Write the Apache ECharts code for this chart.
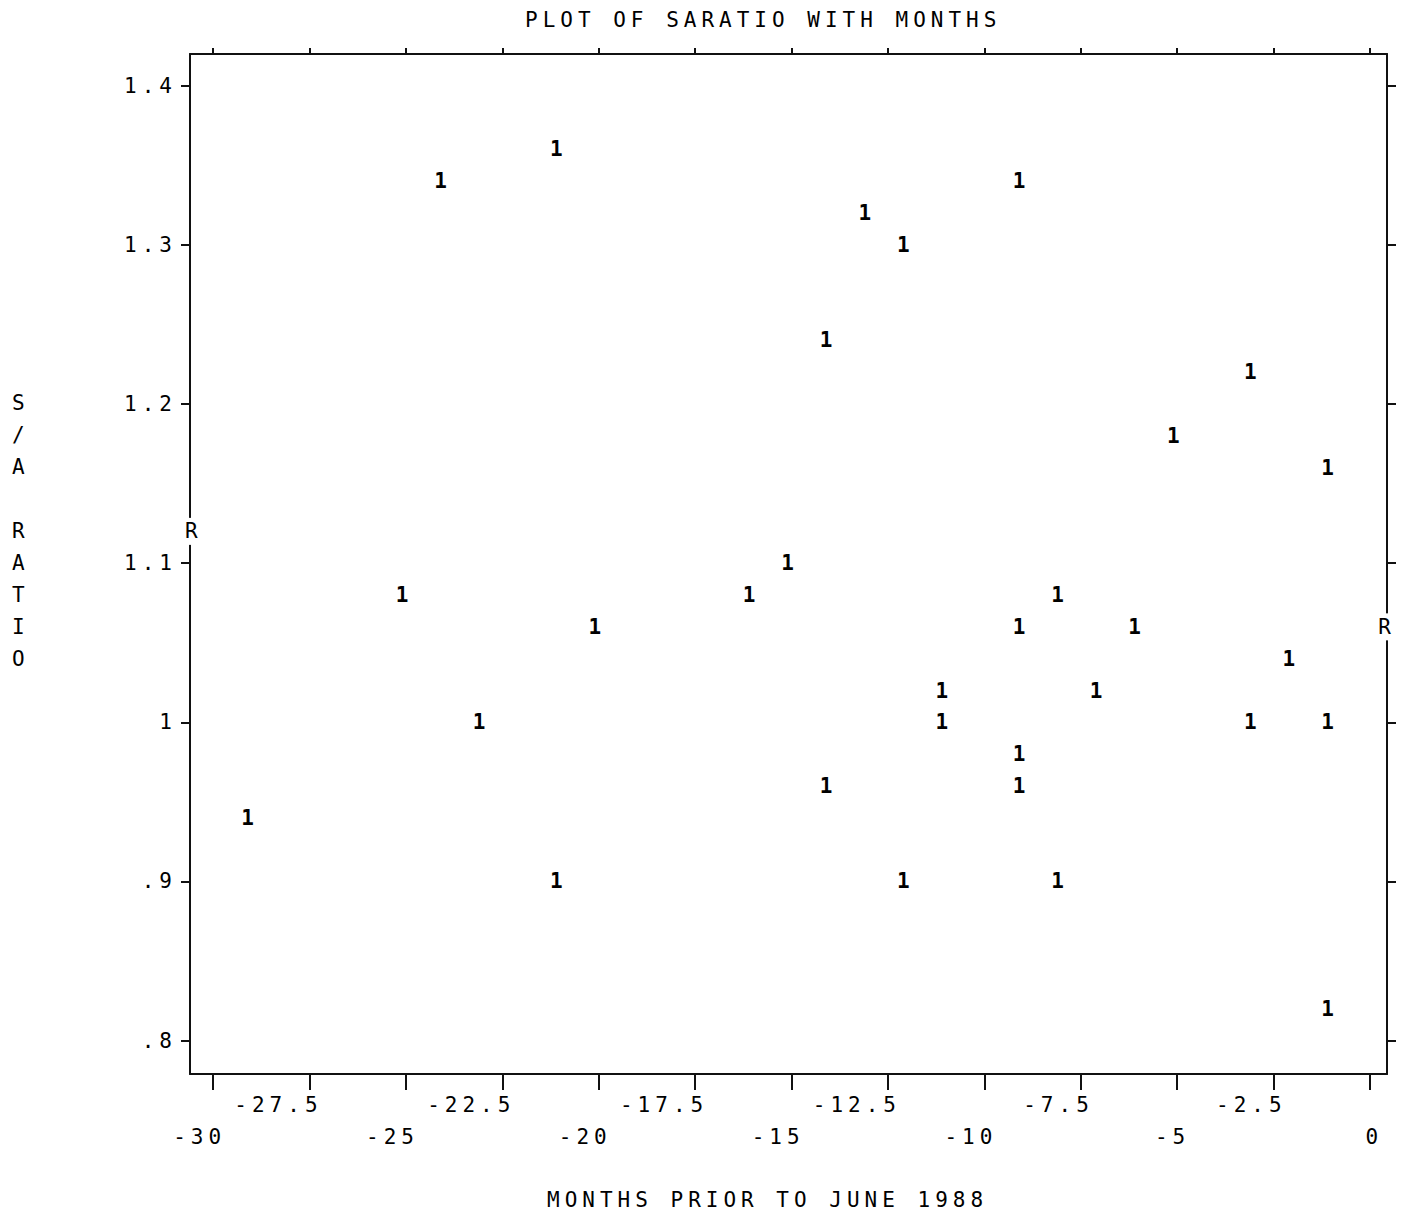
<!DOCTYPE html>
<html><head><meta charset="utf-8">
<script src="https://cdn.jsdelivr.net/npm/echarts@6/dist/echarts.min.js"></script>
<style>
html,body{margin:0;padding:0;background:#fff}
#chart{width:1408px;height:1217px;letter-spacing:5px}
</style></head><body><div id="chart"></div>
<script>
const months = [-29,-24,-21,-25,-23,-20,-21,-16,-15,-14,-14,-13,-12,-12,-11,-11,-9,-9,-9,-9,-8,-8,-7,-6,-5,-3,-3,-2,-1,-1,-1];
const saRatio = [0.94,1.34,1.36,1.08,1.00,1.06,0.90,1.08,1.10,1.24,0.96,1.32,1.30,0.90,1.02,1.00,1.34,1.06,0.98,0.96,1.08,0.90,1.02,1.06,1.18,1.22,1.00,1.04,1.16,1.00,0.82];
const refMonths = [-30.5, 0.44];
const refRatio = [1.12, 1.06];
const xTicks = [-30,-27.5,-25,-22.5,-20,-17.5,-15,-12.5,-10,-7.5,-5,-2.5,0];
const yTicks = [0.8,0.9,1.0,1.1,1.2,1.3,1.4];
const titleText = 'PLOT OF SARATIO WITH MONTHS';
const xName = 'MONTHS PRIOR TO JUNE 1988';
const yNameLines = ['S','/','A','','R','A','T','I','O'];

const FONT = "'DejaVu Sans Mono', monospace";
const INK = '#000000';
const pts = months.map((m, i) => [m, saRatio[i]]);
const refPts = refMonths.map((m, i) => [m, refRatio[i]]);

const lineStyle = {color: '#111', width: 2};
const baseText = {fontFamily: FONT, fontSize: 21, color: INK, fontWeight: 'normal'};
const markText = {fontFamily: FONT, fontSize: 21, color: INK, fontWeight: 600};

const chart = echarts.init(document.getElementById('chart'), null, {renderer: 'svg'});
chart.setOption({
  backgroundColor: '#fff',
  animation: false,
  title: [
    {text: titleText, left: 525, top: 8, padding: 0, textStyle: Object.assign({lineHeight: 24}, baseText)},
    {text: xName, left: 547, top: 1188, padding: 0, textStyle: Object.assign({lineHeight: 24}, baseText)},
    {text: yNameLines.join('\n'), left: 12, top: 387, padding: 0, textStyle: Object.assign({lineHeight: 32}, baseText)}
  ],
  grid: {left: 190, right: 21, top: 54, bottom: 143, containLabel: false},
  xAxis: [
    {
      type: 'value', position: 'bottom', min: -30.6, max: 0.44,
      axisLine: {onZero: false, lineStyle: lineStyle},
      axisTick: {customValues: xTicks, length: 16, lineStyle: lineStyle},
      axisLabel: Object.assign({
        customValues: xTicks, margin: 15, lineHeight: 32, align: 'right', padding: [0, -13, 0, 0],
        formatter: function (v) {
          const upper = Math.abs(v % 5) > 0.1;
          return upper ? String(v) : '\n' + String(v);
        }
      }, baseText),
      splitLine: {show: false}
    },
    {
      type: 'value', position: 'top', min: -30.6, max: 0.44,
      axisLine: {onZero: false, lineStyle: lineStyle},
      axisTick: {customValues: xTicks, length: 6, lineStyle: lineStyle},
      axisLabel: {show: false},
      splitLine: {show: false}
    }
  ],
  yAxis: [
    {
      type: 'value', position: 'left', min: 0.779, max: 1.42,
      axisLine: {onZero: false, lineStyle: lineStyle},
      axisTick: {customValues: yTicks, length: 9, lineStyle: lineStyle},
      axisLabel: Object.assign({
        customValues: yTicks, margin: 13, align: 'right',
        formatter: function (v) {
          const s = String(Math.round(v * 10) / 10);
          return s.startsWith('0') ? s.slice(1) : s;
        }
      }, baseText),
      splitLine: {show: false}
    },
    {
      type: 'value', position: 'right', min: 0.779, max: 1.42,
      axisLine: {onZero: false, lineStyle: lineStyle},
      axisTick: {customValues: yTicks, length: 9, lineStyle: lineStyle},
      axisLabel: {show: false},
      splitLine: {show: false}
    }
  ],
  series: [
    {
      type: 'scatter', xAxisIndex: 0, yAxisIndex: 0, data: pts,
      symbolSize: 1, itemStyle: {color: 'rgba(255,255,255,0)'},
      label: Object.assign({show: true, position: 'inside', formatter: '1', offset: [-1.5, 0],
        opacity: 1, textBorderWidth: 0, textBorderColor: 'rgba(0,0,0,0)'}, markText),
      emphasis: {disabled: true},
      silent: true, z: 3
    },
    {
      type: 'scatter', xAxisIndex: 0, yAxisIndex: 0, data: refPts,
      symbolSize: 1, itemStyle: {color: 'rgba(255,255,255,0)'},
      label: Object.assign({show: true, position: 'inside', formatter: 'R', offset: [0, 0],
        opacity: 1, textBorderWidth: 0, textBorderColor: 'rgba(0,0,0,0)',
        backgroundColor: '#fff', padding: [3, 1]}, baseText),
      emphasis: {disabled: true},
      silent: true, z: 4
    }
  ]
});
</script></body></html>
